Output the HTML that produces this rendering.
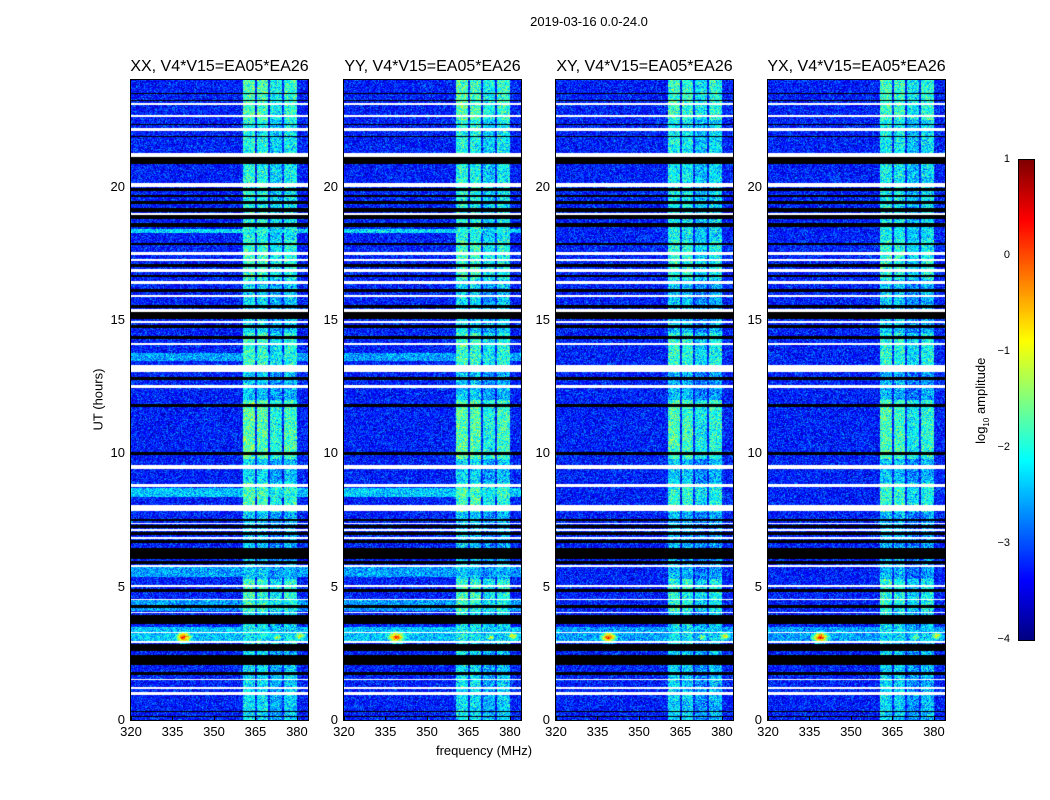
<!DOCTYPE html>
<html><head><meta charset="utf-8">
<style>
body{margin:0;background:#fff;font-family:"Liberation Sans",sans-serif;}
#root{position:relative;width:1050px;height:800px;overflow:hidden;background:#fff;}
.t{position:absolute;white-space:nowrap;color:#000;}
canvas{position:absolute;}
.frame{position:absolute;border:1px solid #000;box-sizing:border-box;}
</style></head><body>
<div id="root">
<div class="t" style="left:489px;top:14px;width:200px;text-align:center;font-size:13px;">2019-03-16 0.0-24.0</div>
<div class="t" style="left:48px;top:392px;width:100px;text-align:center;font-size:13px;transform:rotate(-90deg);">UT (hours)</div>
<div class="t" style="left:384px;top:743px;width:200px;text-align:center;font-size:13px;">frequency (MHz)</div>
<canvas id="cb" width="15" height="480" style="left:1019px;top:160px;"></canvas>
<div class="frame" style="left:1018px;top:159px;width:17px;height:482px;"></div>
<div class="t" style="left:922px;top:392px;width:120px;text-align:center;font-size:13px;transform:rotate(-90deg);">log<sub style="font-size:8px">10</sub> amplitude</div>
</div>
<script>
// ---- data ----
const panelTitles = ["XX, V4*V15=EA05*EA26","YY, V4*V15=EA05*EA26","XY, V4*V15=EA05*EA26","YX, V4*V15=EA05*EA26"];
const xTicks = [320,335,350,365,380];
const yTicks = [0,5,10,15,20];
const cbTicks = [1,0,-1,-2,-3,-4];
const cbTickLabels = ["1","0","\u22121","\u22122","\u22123","\u22124"];
// flagged (black) time intervals in hours
const blackBands = [[23.75,23.72],[23.5,23.47],[23.25,23.22],[22.35,22.32],[21.9,21.87],[21.1,20.85],[19.95,19.85],[19.7,19.6],[19.45,19.35],[19.2,19.05],[18.95,18.8],[18.65,18.5],[17.9,17.8],[17.1,17.0],[16.7,16.6],[16.15,16.05],[15.55,15.45],[15.3,15.05],[14.8,14.7],[14.4,14.3],[12.85,12.75],[11.85,11.75],[10.05,9.95],[7.55,7.45],[7.3,7.2],[7.05,6.95],[6.75,6.65],[6.45,6.05],[5.95,5.85],[4.9,4.8],[4.3,4.2],[3.95,3.6],[2.85,2.6],[2.45,2.05],[1.8,1.7],[0.35,0.3],[0.15,0.1]];
// white (no-data) lines: [start,end]
const whiteBands = [[23.15,23.05],[22.7,22.6],[22.2,22.1],[21.25,21.1],[20.15,20.0],[19.0,18.95],[17.55,17.45],[17.3,17.2],[16.9,16.8],[16.45,16.35],[15.95,15.85],[15.4,15.3],[14.95,14.9],[14.15,14.05],[13.3,13.05],[12.55,12.45],[9.55,9.4],[8.85,8.75],[8.05,7.85],[7.4,7.35],[7.15,7.1],[6.85,6.8],[5.8,5.75],[5.05,5.0],[4.55,4.5],[4.05,4.0],[3.3,3.25],[2.95,2.9],[1.55,1.5],[1.25,1.15],[1.05,0.95]];
// brighter broadband rows in co-pol panels: [start,end,level]
const brightBandsCo = [[18.4,18.25,-2.3],[13.75,13.45,-2.6],[8.7,8.35,-2.4],[5.8,5.35,-2.6],[4.5,4.1,-2.6],[3.5,2.95,-2.4]];
const brightBandsCross = [[3.5,2.95,-2.6]];
// RFI frequency columns: [f0,f1,level]
const rfiCols = [[360.5,364.7,-2.0],[365.4,369.4,-2.05],[370.2,374.5,-2.35],[375.5,380,-2.15]];
// RFI strength by time: [start,end,level offset]
const rfiRows = [[24,22.5,0.25],[22.5,18,0],[18,16.5,0.15],[16.5,14.5,-0.25],[14.5,13.2,0.15],[13.2,12,-0.35],[12,9.8,0.3],[9.8,8.9,-0.25],[8.9,7.8,0.2],[7.8,5.3,-0.35],[5.3,4.1,0.15],[4.1,2.9,-0.1],[2.9,0,-0.2]];
// point sources: [freq,time,level]
const spots = [[339,3.1,0.4],[381,3.15,-0.7],[373,3.1,-1.0]];
const baseLevel = -3.25;

// ---- layout ----
const panelLeft = [131,344,556,768];
const pTop=80, pW=177, pH=640;
const fMin=320, fMax=384, tMin=0, tMax=24;
const xOf=(f)=> (f-fMin)/(fMax-fMin)*pW;
const yOf=(t)=> pH-(t-tMin)/(tMax-tMin)*pH;
const fOf=(x)=> fMin+(x+0.5)/pW*(fMax-fMin);
const tOf=(y)=> tMin+(pH-y-0.5)/pH*(tMax-tMin);

function jet(v){let t=(v+4)/5;t=Math.max(0,Math.min(1,t));
 const c=(x)=>Math.max(0,Math.min(1,x));
 return [c(1.5-Math.abs(4*t-3))*255,c(1.5-Math.abs(4*t-2))*255,c(1.5-Math.abs(4*t-1))*255];}
function hash(a,b){let h=(a*374761393+b*668265263)|0;h=(h^(h>>>13))*1274126177|0;return ((h^(h>>>16))>>>0)/4294967296;}

const root=document.getElementById('root');
function addText(txt,x,y,w,align,size,name){
 const d=document.createElement('div');d.className='t';
 
 
 d.style.left=x+'px';d.style.top=y+'px';d.style.width=w+'px';d.style.textAlign=align;d.style.fontSize=size+'px';
 d.textContent=txt;root.appendChild(d);}

panelTitles.forEach((title,pi)=>{
 const L=panelLeft[pi];
 const cv=document.createElement('canvas');cv.width=pW;cv.height=pH;
 cv.style.left=L+'px';cv.style.top=pTop+'px';
 
 
 root.appendChild(cv);
 const ctx=cv.getContext('2d');const img=ctx.createImageData(pW,pH);
 const co=pi<2; const bb=co?brightBandsCo:brightBandsCross;
 for(let y=0;y<pH;y++){
  const t=tOf(y);
  let black=blackBands.some(b=>t<=b[0]&&t>=b[1]);
  let white=whiteBands.some(b=>t<=b[0]&&t>=b[1]);
  let rowLv=baseLevel, rfiOff=0;
  bb.forEach(b=>{if(t<=b[0]&&t>=b[1])rowLv=b[2];});
  rfiRows.forEach(r=>{if(t<=r[0]&&t>r[1])rfiOff=r[2];});
  for(let x=0;x<pW;x++){
   const f=fOf(x);const i=(y*pW+x)*4;
   if(white){img.data[i]=img.data[i+1]=img.data[i+2]=255;img.data[i+3]=255;continue;}
   if(black){img.data[i]=img.data[i+1]=img.data[i+2]=0;img.data[i+3]=255;continue;}
   let v=rowLv; let inRfi=false;
   rfiCols.forEach(c=>{if(f>=c[0]&&f<=c[1]){v=Math.max(v,c[2]+rfiOff+(co?0:-0.1));inRfi=true;}});
   spots.forEach(s=>{const d=Math.hypot((f-s[0])/1.0,(t-s[1])/0.07);v=Math.max(v,s[2]-d*0.8);});
   const n1=hash(x+pi*1000,y)-0.5, n2=hash(y+7,x+pi*313)-0.5;
   v+= (n1+n2)*(inRfi?0.9:0.75);
   const c=jet(v);img.data[i]=c[0];img.data[i+1]=c[1];img.data[i+2]=c[2];img.data[i+3]=255;}
 }
 ctx.putImageData(img,0,0);
 const fr=document.createElement('div');fr.className='frame';
 
 
 fr.style.left=(L-1)+'px';fr.style.top=(pTop-1)+'px';fr.style.width=(pW+2)+'px';fr.style.height=(pH+2)+'px';
 root.appendChild(fr);
 addText(title,L-30,58,pW+60,'center',16,'panel-title-'+(pi+1));
 xTicks.forEach(v=>{addText(String(v),L+xOf(v)-20,724,40,'center',13,'x-tick-label');
  const tk=document.createElement('div');tk.style.cssText='position:absolute;width:1px;height:4px;background:#000;left:'+(L+xOf(v))+'px;top:'+(pTop+pH-4)+'px';
  
  
  root.appendChild(tk);});
 yTicks.forEach(v=>{addText(String(v),L-40,pTop+yOf(v)-8,34,'right',13,'y-tick-label');});
});

// colorbar
const cb=document.getElementById('cb');const cctx=cb.getContext('2d');
for(let y=0;y<480;y++){const v=1-y/480*5;const c=jet(v);cctx.fillStyle='rgb('+c.map(Math.round).join(',')+')';cctx.fillRect(0,y,15,1);}
cbTicks.forEach((v,k)=>{const y=160+(1-v)/5*480;addText(cbTickLabels[k],980,y-7,30,'right',11,'colorbar-tick-label');});
</script>
</body></html>
